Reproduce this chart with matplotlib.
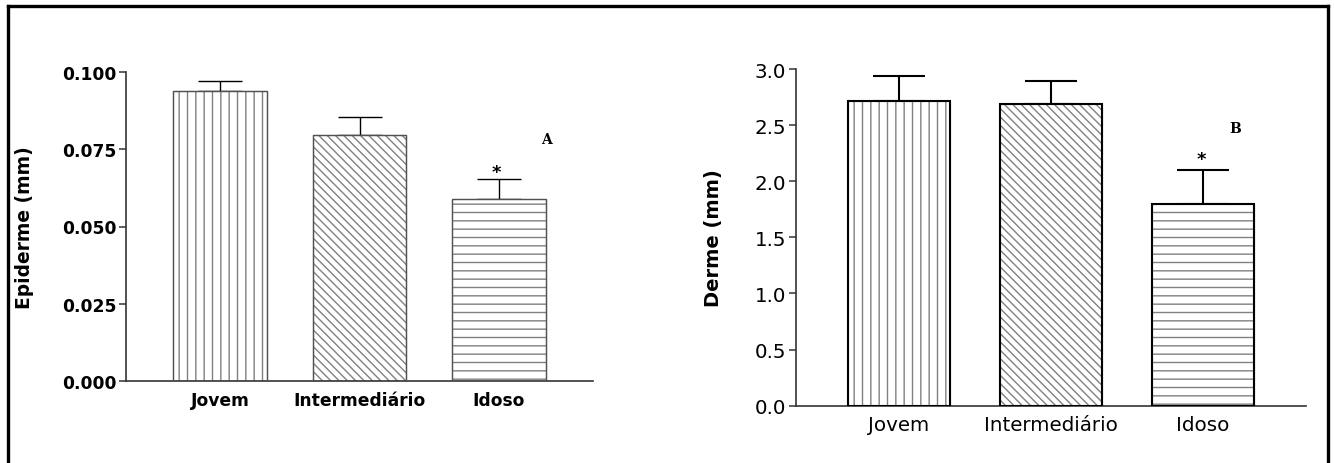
import matplotlib
matplotlib.use("Agg")
import matplotlib.pyplot as plt
from matplotlib.lines import Line2D

plt.rcParams["font.family"] = ["DejaVu Sans"]
plt.rcParams["hatch.linewidth"] = 1.0

groups = ["Jovem", "Intermediário", "Idoso"]
hatches = ["||", "\\\\\\\\", "--"]

epiderme = [0.0940, 0.0796, 0.0590]
epiderme_err = [0.0032, 0.0059, 0.0064]

derme = [2.713, 2.686, 1.797]
derme_err = [0.221, 0.210, 0.301]

W, H = 1334, 464
fig = plt.figure(figsize=(W / 100, H / 100), dpi=100)

ax1 = fig.add_axes([126 / W, 1 - 382 / H, 467 / W, 309 / H])
ax2 = fig.add_axes([796 / W, 1 - 406.7 / H, 510 / W, 336.7 / H])

x = list(range(len(groups)))


def draw_panel(ax, vals, errs, edge, lw_edge, capsize, weight, tick_size):
    for xi, v, h in zip(x, vals, hatches):
        ax.bar(xi, v, width=0.675, color="white", edgecolor="#808080",
               hatch=h, linewidth=0.8, zorder=2)
        ax.bar(xi, v, width=0.675, fill=False, edgecolor=edge,
               linewidth=lw_edge, zorder=3)
    ax.errorbar(x, vals, yerr=[[0] * len(vals), errs], fmt="none",
                ecolor="black", elinewidth=lw_edge, capsize=capsize,
                capthick=lw_edge, zorder=1)
    ax.set_xlim(-0.677, 2.677)
    ax.set_xticks(x)
    ax.set_xticklabels(groups, fontsize=tick_size, fontweight=weight)
    ax.tick_params(axis="x", length=0, pad=7)
    ax.tick_params(axis="y", length=5, width=1.1, pad=2, color="#333333",
                   labelsize=tick_size)
    for s in ["top", "right"]:
        ax.spines[s].set_visible(False)
    for s in ["left", "bottom"]:
        ax.spines[s].set_color("#333333")
        ax.spines[s].set_linewidth(1.2)


draw_panel(ax1, epiderme, epiderme_err, "#505050", 1.0, 16, "bold", 12.3)
ax1.set_ylim(0, 0.1)
ax1.set_yticks([0.0, 0.025, 0.05, 0.075, 0.1])
ax1.set_yticklabels(["0.000", "0.025", "0.050", "0.075", "0.100"])
for lab in ax1.get_yticklabels():
    lab.set_fontweight("bold")
ax1.set_ylabel("Epiderme (mm)", fontsize=13.4, fontweight="bold")
ax1.yaxis.set_label_coords((34 - 126) / 467, 0.5)
ax1.text(2.34, 0.0784, "A", family="DejaVu Serif", fontweight="bold",
         fontsize=10, ha="center", va="center")
ax1.text(1.98, 0.0675, "*", fontweight="bold", fontsize=13,
         ha="center", va="center")

draw_panel(ax2, derme, derme_err, "black", 1.5, 19, "normal", 14.3)
ax2.set_ylim(0, 3.0)
ax2.set_yticks([0.0, 0.5, 1.0, 1.5, 2.0, 2.5, 3.0])
ax2.set_yticklabels(["0.0", "0.5", "1.0", "1.5", "2.0", "2.5", "3.0"])
ax2.set_ylabel("Derme (mm)", fontsize=14, fontweight="bold")
ax2.yaxis.set_label_coords((723 - 796) / 510, 0.5)
ax2.text(2.21, 2.47, "B", family="DejaVu Serif", fontweight="bold",
         fontsize=10, ha="center", va="center")
ax2.text(1.99, 2.20, "*", fontweight="bold", fontsize=13,
         ha="center", va="center")

# outer frame (no bottom edge, as in the source image)
fx0, fx1, fy = 7.5 / W, 1328 / W, 1 - 6.5 / H
for xs, ys in [([fx0, fx0], [0, fy]), ([fx0, fx1], [fy, fy]), ([fx1, fx1], [fy, 0])]:
    fig.add_artist(Line2D(xs, ys, color="black", linewidth=2.4,
                          transform=fig.transFigure, solid_capstyle="projecting"))

fig.savefig("out.png", dpi=100)
